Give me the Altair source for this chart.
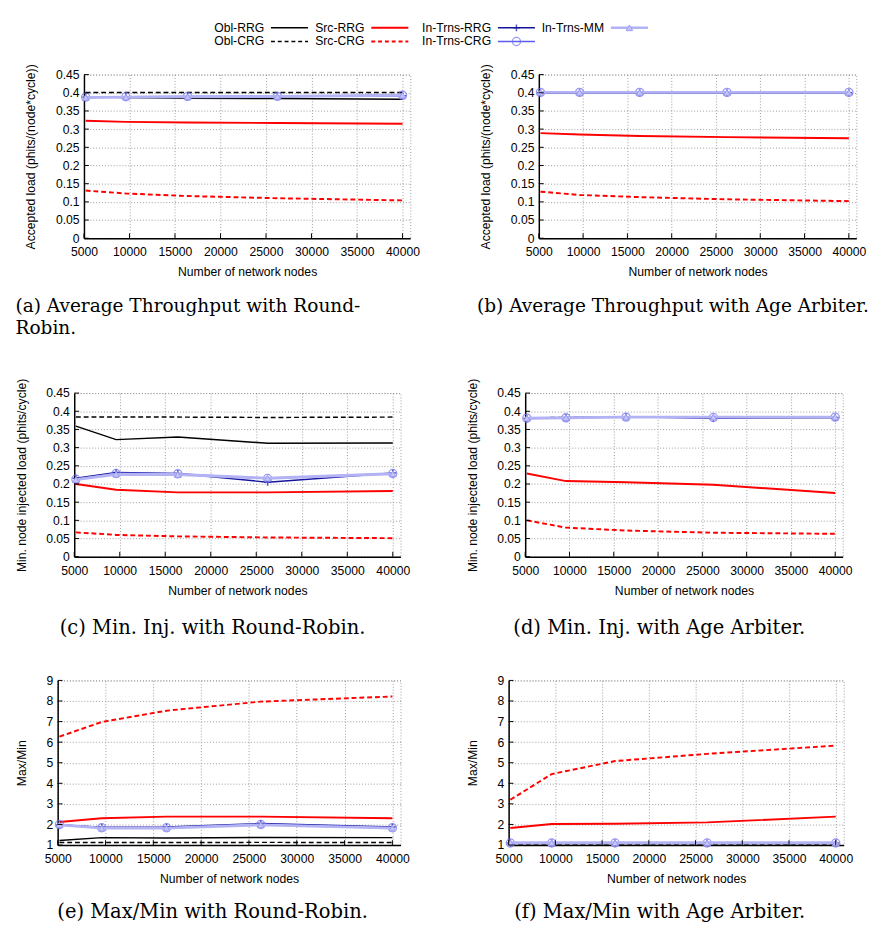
import altair as alt
import pandas as pd

NODES = [5184, 9604, 16384, 26244, 40000]
XTICKS = [5000, 10000, 15000, 20000, 25000, 30000, 35000, 40000]
LOAD_TICKS = [0, 0.05, 0.1, 0.15, 0.2, 0.25, 0.3, 0.35, 0.4, 0.45]
RATIO_TICKS = [1, 2, 3, 4, 5, 6, 7, 8, 9]
SERIES = ["Obl-RRG", "Obl-CRG", "Src-RRG", "Src-CRG", "In-Trns-RRG", "In-Trns-CRG", "In-Trns-MM"]

# (a) Average throughput, Round-Robin
a_obl_rrg = [0.389, 0.387, 0.385, 0.384, 0.382]
a_obl_crg = [0.401, 0.401, 0.401, 0.401, 0.401]
a_src_rrg = [0.323, 0.320, 0.318, 0.317, 0.315]
a_src_crg = [0.131, 0.123, 0.116, 0.110, 0.104]
a_it_rrg = [0.388, 0.389, 0.389, 0.390, 0.392]
a_it_crg = [0.388, 0.389, 0.390, 0.390, 0.393]
a_it_mm = [0.387, 0.388, 0.389, 0.390, 0.393]

# (b) Average throughput, Age arbiter
b_obl_rrg = [0.400, 0.400, 0.400, 0.400, 0.400]
b_obl_crg = [0.401, 0.401, 0.401, 0.401, 0.401]
b_src_rrg = [0.289, 0.285, 0.281, 0.278, 0.275]
b_src_crg = [0.128, 0.119, 0.113, 0.107, 0.102]
b_it_rrg = [0.400, 0.400, 0.400, 0.400, 0.400]
b_it_crg = [0.401, 0.401, 0.401, 0.401, 0.401]
b_it_mm = [0.401, 0.401, 0.401, 0.401, 0.401]

# (c) Min. injection, Round-Robin
c_obl_rrg = [0.359, 0.322, 0.329, 0.312, 0.313]
c_obl_crg = [0.384, 0.384, 0.384, 0.383, 0.384]
c_src_rrg = [0.200, 0.184, 0.177, 0.177, 0.181]
c_src_crg = [0.067, 0.060, 0.056, 0.053, 0.051]
c_it_rrg = [0.216, 0.232, 0.229, 0.205, 0.230]
c_it_crg = [0.213, 0.229, 0.228, 0.215, 0.229]
c_it_mm = [0.212, 0.227, 0.226, 0.216, 0.228]

# (d) Min. injection, Age arbiter
d_obl_rrg = [0.381, 0.382, 0.385, 0.383, 0.383]
d_obl_crg = [0.382, 0.383, 0.385, 0.384, 0.384]
d_src_rrg = [0.229, 0.208, 0.205, 0.198, 0.175]
d_src_crg = [0.100, 0.080, 0.072, 0.066, 0.063]
d_it_rrg = [0.380, 0.382, 0.385, 0.381, 0.383]
d_it_crg = [0.381, 0.382, 0.384, 0.383, 0.384]
d_it_mm = [0.381, 0.382, 0.384, 0.384, 0.384]

# (e) Max/Min, Round-Robin
e_obl_rrg = [1.22, 1.36, 1.34, 1.37, 1.36]
e_obl_crg = [1.12, 1.12, 1.12, 1.13, 1.12]
e_src_rrg = [2.12, 2.30, 2.38, 2.38, 2.30]
e_src_crg = [6.27, 6.98, 7.53, 7.97, 8.22]
e_it_rrg = [1.97, 1.87, 1.88, 2.05, 1.88]
e_it_crg = [2.00, 1.84, 1.84, 2.00, 1.84]
e_it_mm = [1.98, 1.82, 1.82, 1.98, 1.82]

# (f) Max/Min, Age arbiter
f_obl_rrg = [1.07, 1.07, 1.07, 1.07, 1.07]
f_obl_crg = [1.05, 1.05, 1.05, 1.05, 1.05]
f_src_rrg = [1.83, 2.02, 2.03, 2.10, 2.38]
f_src_crg = [3.20, 4.45, 5.08, 5.43, 5.83]
f_it_rrg = [1.10, 1.10, 1.10, 1.10, 1.10]
f_it_crg = [1.10, 1.10, 1.10, 1.10, 1.10]
f_it_mm = [1.11, 1.11, 1.11, 1.11, 1.11]

PLUS = "M-1,0H1M0,-1V1"
STYLE = {
    "Obl-RRG": dict(color="#000000", width=1.5),
    "Obl-CRG": dict(color="#000000", width=1.5, dash=[5, 3]),
    "Src-RRG": dict(color="#ff0000", width=2),
    "Src-CRG": dict(color="#ff0000", width=2, dash=[5, 3]),
    "In-Trns-RRG": dict(color="#14149c", width=1.5,
                        point=dict(shape=PLUS, size=50, filled=False, stroke="#14149c", strokeWidth=1.5)),
    "In-Trns-CRG": dict(color="#5c5cee", width=1.5,
                        point=dict(shape="circle", size=70, filled=False, stroke="#6a6af0", strokeWidth=1.3)),
    "In-Trns-MM": dict(color="#b2b2f4", width=3,
                       point=dict(shape="triangle-up", size=45, filled=True, fill="#c4c4f8",
                                  stroke="#9a9af0", strokeWidth=1, opacity=1)),
}


def make_panel(vals, ytitle, ydom, yticks, caption, anchor, w, h, cap_size, cap_offset, cap_dx=0):
    X = alt.X("x:Q", scale=alt.Scale(domain=[5000, 40850], nice=False, zero=False),
              axis=alt.Axis(values=XTICKS, format="d", title="Number of network nodes",
                            labelFlush=False, labelOverlap=False))
    Y = alt.Y("y:Q", scale=alt.Scale(domain=ydom, nice=False, zero=False),
              axis=alt.Axis(values=yticks, format="~g", title=ytitle, labelOverlap=False))
    layers = []
    for s, v in zip(SERIES, vals):
        st = STYLE[s]
        df = pd.DataFrame({"x": NODES, "y": v})
        kw = dict(color=st["color"], strokeWidth=st["width"])
        if "dash" in st:
            kw["strokeDash"] = st["dash"]
        layers.append(alt.Chart(df).mark_line(**kw).encode(x=X, y=Y))
        if "point" in st:
            layers.append(alt.Chart(df).mark_point(**st["point"]).encode(x=X, y=Y))
    xt = pd.DataFrame({"x": XTICKS})
    layers.append(alt.Chart(xt).mark_rule(color="black", strokeWidth=1).encode(
        x=X, y=alt.value(h), y2=alt.value(h - 5)))
    yt = pd.DataFrame({"y": yticks})
    layers.append(alt.Chart(yt).mark_rule(color="black", strokeWidth=1).encode(
        y=Y, x=alt.value(0), x2=alt.value(5)))
    return alt.layer(*layers).properties(
        width=w, height=h,
        title=alt.TitleParams(caption, orient="bottom", anchor=anchor, frame="bounds",
                              font="DejaVu Serif", fontSize=cap_size, fontWeight="normal",
                              offset=cap_offset, lineHeight=22, color="black", dx=cap_dx))


LOAD_A = "Accepted load (phits/(node*cycle))"
LOAD_C = "Min. node injected load (phits/cycle)"
RATIO = "Max/Min"

pa = make_panel([a_obl_rrg, a_obl_crg, a_src_rrg, a_src_crg, a_it_rrg, a_it_crg, a_it_mm],
                LOAD_A, [0, 0.45], LOAD_TICKS,
                ["(a) Average Throughput with Round-", "Robin."], "start", 335, 168, 19, 20, -10)
pb = make_panel([b_obl_rrg, b_obl_crg, b_src_rrg, b_src_crg, b_it_rrg, b_it_crg, b_it_mm],
                LOAD_A, [0, 0.45], LOAD_TICKS,
                "(b) Average Throughput with Age Arbiter.", "middle", 326, 168, 19, 20)
pc = make_panel([c_obl_rrg, c_obl_crg, c_src_rrg, c_src_crg, c_it_rrg, c_it_crg, c_it_mm],
                LOAD_C, [0, 0.45], LOAD_TICKS,
                "(c) Min. Inj. with Round-Robin.", "middle", 335, 168, 20, 22)
pd_ = make_panel([d_obl_rrg, d_obl_crg, d_src_rrg, d_src_crg, d_it_rrg, d_it_crg, d_it_mm],
                 LOAD_C, [0, 0.45], LOAD_TICKS,
                 "(d) Min. Inj. with Age Arbiter.", "middle", 326, 168, 20, 22)
pe = make_panel([e_obl_rrg, e_obl_crg, e_src_rrg, e_src_crg, e_it_rrg, e_it_crg, e_it_mm],
                RATIO, [1, 9], RATIO_TICKS,
                "(e) Max/Min with Round-Robin.", "middle", 352, 169, 20, 18)
pf = make_panel([f_obl_rrg, f_obl_crg, f_src_rrg, f_src_crg, f_it_rrg, f_it_crg, f_it_mm],
                RATIO, [1, 9], RATIO_TICKS,
                "(f) Max/Min with Age Arbiter.", "middle", 344, 169, 20, 18)

# legend (gnuplot style: label then line sample)
LEG_NAMES = ["Obl-RRG", "Src-RRG", "In-Trns-RRG", "In-Trns-MM", "Obl-CRG", "Src-CRG", "In-Trns-CRG"]
LEG_COL = [0, 1, 2, 3, 0, 1, 2]
LEG_ROW = [0, 0, 0, 0, 1, 1, 1]
LX = alt.X("col:Q", scale=alt.Scale(domain=[0, 1, 2, 3], range=[258, 361, 491, 607]), axis=None)
LY = alt.Y("row:Q", scale=alt.Scale(domain=[0, 1], range=[0, 14]), axis=None)
leg_layers = []
for name, c, r in zip(LEG_NAMES, LEG_COL, LEG_ROW):
    st = STYLE[name]
    df = pd.DataFrame({"col": [c], "row": [r], "name": [name]})
    leg_layers.append(alt.Chart(df).mark_text(align="right", baseline="middle", font="Liberation Sans",
                                              fontSize=12.5, color="black").encode(x=LX, y=LY, text="name:N"))
    kw = dict(color=st["color"], strokeWidth=min(st["width"], 2.5), xOffset=7, x2Offset=45)
    if "dash" in st:
        kw["strokeDash"] = [4, 3]
    leg_layers.append(alt.Chart(df).mark_rule(**kw).encode(x=LX, x2=alt.X2("col:Q"), y=LY))
    if "point" in st:
        leg_layers.append(alt.Chart(df).mark_point(xOffset=26, **st["point"]).encode(x=LX, y=LY))
legend = alt.layer(*leg_layers).properties(
    width=850, height=21, view=alt.ViewBackground(fill="white", stroke="transparent"))


def spacer():
    return alt.Chart(pd.DataFrame({"s": [0]})).mark_point(size=0, strokeWidth=0, opacity=0).encode(
        x=alt.X("s:Q", axis=None), y=alt.Y("s:Q", axis=None)
    ).properties(width=1, height=1, view=alt.ViewBackground(fill="white", stroke="transparent"))


row1 = alt.hconcat(spacer(), alt.hconcat(pa, pb, spacing=57), spacing=0)
row2 = alt.hconcat(spacer(), alt.hconcat(pc, pd_, spacing=57), spacing=0)
row3 = alt.hconcat(spacer(), alt.hconcat(pe, pf, spacing=57), spacing=0)

chart = alt.vconcat(
    legend,
    alt.vconcat(row1, alt.vconcat(row2, row3, spacing=36), spacing=40),
    spacing=14,
).properties(
    padding={"left": 4, "top": 0, "right": 0, "bottom": 0}
).configure_axis(
    labelFont="Liberation Sans", labelFontSize=12.5, titleFont="Liberation Sans", titleFontSize=12.5,
    titleFontWeight="normal", labelColor="black", titleColor="black", domainColor="black",
    domainWidth=1.5, ticks=False, grid=True, gridColor="#9a9a9a", gridDash=[1, 2], gridWidth=1,
).configure_axisX(labelPadding=8, titlePadding=8).configure_axisY(labelPadding=5, titlePadding=18
).configure_view(stroke="#9a9a9a", strokeDash=[1, 2], strokeWidth=1)

chart.save("out.html", embed_options={"renderer": "svg", "actions": False})
